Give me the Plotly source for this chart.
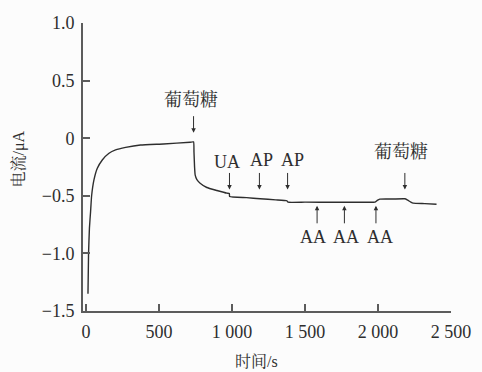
import plotly.graph_objects as go

# Amperometric i-t response: time (s) and current (uA)
time_s = [14, 18, 24, 32, 39, 55, 78, 112, 158, 203, 272, 374, 531, 714, 737,
          740, 744, 748, 760, 782, 828, 897, 965, 982, 984, 1100, 1193, 1300,
          1376, 1384, 1500, 1700, 1900, 1979, 1995, 2012, 2100, 2184, 2200,
          2225, 2241, 2320, 2401]
current_uA = [-1.35, -1.0, -0.78, -0.636, -0.5, -0.362, -0.261, -0.189, -0.131,
              -0.102, -0.080, -0.059, -0.050, -0.035, -0.032,
              -0.12, -0.25, -0.318, -0.36, -0.391, -0.428, -0.454, -0.477, -0.48,
              -0.506, -0.516, -0.526, -0.535, -0.543, -0.555, -0.555, -0.556,
              -0.556, -0.555, -0.54, -0.529, -0.528, -0.526, -0.535, -0.555,
              -0.564, -0.568, -0.573]

# Injection markers: label, time of addition, arrow tip, label position
down_labels = ["葡萄糖", "UA", "AP", "AP", "葡萄糖"]
down_times = [737, 983, 1188, 1381, 2184]
down_tips = [0.048, -0.445, -0.445, -0.445, -0.445]
down_text_t = [721, 965, 1200, 1412, 2157]
down_text_i = [0.333, -0.203, -0.186, -0.186, -0.117]

up_labels = ["AA", "AA", "AA"]
up_times = [1583, 1770, 1986]
up_tips = [-0.587, -0.587, -0.587]
up_text_t = [1555, 1781, 2013]
up_text_i = [-0.861, -0.861, -0.861]

x_ticks = [0, 500, 1000, 1500, 2000, 2500]
x_ticktext = ["0", "500", "1 000", "1 500", "2 000", "2 500"]
y_ticks = [-1.5, -1.0, -0.5, 0, 0.5, 1.0]
y_ticktext = ["\u22121.5", "\u22121.0", "\u22120.5", "0", "0.5", "1.0"]

SERIF = "Liberation Serif, Times New Roman, serif"
CJK = "Liberation Serif, Noto Serif CJK SC, Noto Sans CJK SC, serif"
INK = "#2e2e2e"
AXIS = "#5c5c5c"

fig = go.Figure()
fig.add_trace(go.Scatter(
    x=time_s, y=current_uA, mode="lines",
    line=dict(color=INK, width=1.4, shape="spline", smoothing=0.4),
    showlegend=False, hoverinfo="skip",
))

annotations = []
for lab, t, tip, tt, ti in zip(down_labels, down_times, down_tips, down_text_t, down_text_i):
    annotations.append(dict(x=t, y=tip, xref="x", yref="y", text="",
                            showarrow=True, ax=0, ay=-18, arrowhead=2,
                            arrowsize=0.9, arrowwidth=1, arrowcolor=INK))
    annotations.append(dict(x=tt, y=ti, xref="x", yref="y", text=lab,
                            showarrow=False, xanchor="center", yanchor="middle",
                            font=dict(family=CJK, size=18, color=INK)))
for lab, t, tip, tt, ti in zip(up_labels, up_times, up_tips, up_text_t, up_text_i):
    annotations.append(dict(x=t, y=tip, xref="x", yref="y", text="",
                            showarrow=True, ax=0, ay=19, arrowhead=2,
                            arrowsize=0.9, arrowwidth=1, arrowcolor=INK))
    annotations.append(dict(x=tt, y=ti, xref="x", yref="y", text=lab,
                            showarrow=False, xanchor="center", yanchor="middle",
                            font=dict(family=SERIF, size=18, color=INK)))

W, H = 482, 372
L, R, T, B = 83, 31, 23, 61


def paper_x(px):
    return (px - L) / (W - L - R)


def paper_y(py):
    return 1 - (py - T) / (H - T - B)


# Axis titles
annotations.append(dict(x=paper_x(256), y=paper_y(361), xref="paper", yref="paper",
                        text="时间/s", showarrow=False,
                        xanchor="center", yanchor="middle",
                        font=dict(family=CJK, size=16, color=INK)))
annotations.append(dict(x=paper_x(18.5), y=paper_y(159), xref="paper", yref="paper",
                        text="电流/μA", textangle=-90, showarrow=False,
                        xanchor="center", yanchor="middle",
                        font=dict(family=CJK, size=16, color=INK)))

fig.update_layout(
    width=W, height=H,
    margin=dict(l=L, r=R, t=T, b=B, pad=0),
    paper_bgcolor="#fcfcfc", plot_bgcolor="#fcfcfc",
    annotations=annotations,
    xaxis=dict(range=[-20, 2500], tickvals=x_ticks, ticktext=x_ticktext,
               ticks="inside", ticklen=7, tickwidth=1.5, tickcolor=AXIS,
               showline=True, linecolor=AXIS, linewidth=1.8, showgrid=False,
               zeroline=False, ticklabelstandoff=3,
               tickfont=dict(family=SERIF, size=18, color=INK)),
    yaxis=dict(range=[-1.5, 1.0], tickvals=y_ticks, ticktext=y_ticktext,
               ticks="inside", ticklen=7, tickwidth=1.5, tickcolor=AXIS,
               showline=True, linecolor=AXIS, linewidth=1.8, showgrid=False,
               zeroline=False, ticklabelstandoff=3,
               tickfont=dict(family=SERIF, size=18, color=INK)),
)

fig.write_html("out.html")
